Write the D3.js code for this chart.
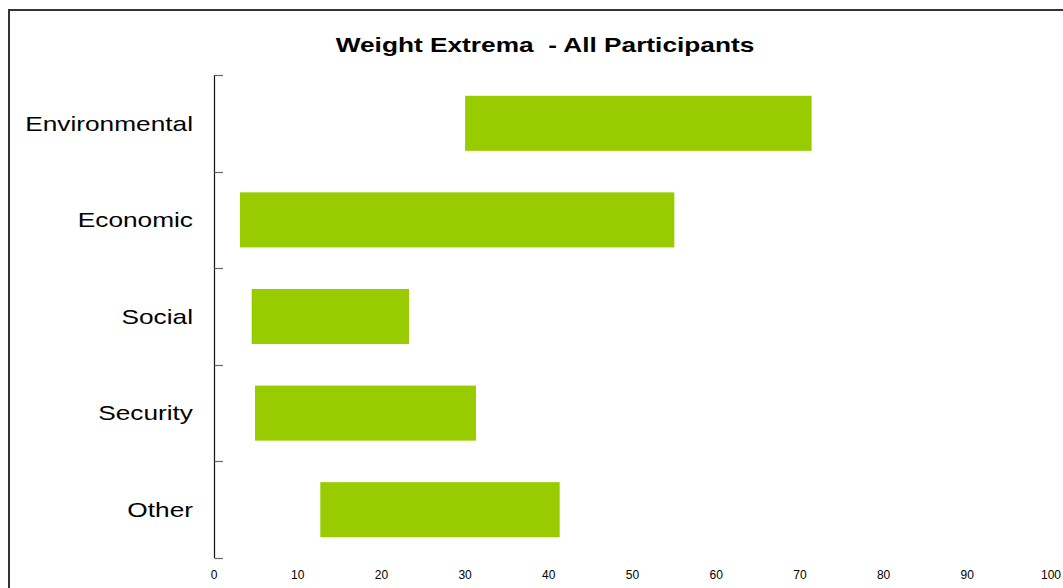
<!DOCTYPE html>
<html>
<head>
<meta charset="utf-8">
<script src="https://cdn.jsdelivr.net/npm/d3@7"></script>
<style>
  body { margin: 0; background: #fff; }
  svg { display: block; font-family: Arial, "Liberation Sans", sans-serif; }
</style>
</head>
<body>
<div id="chart"></div>
<script>
// data
const categories = ["Environmental", "Economic", "Social", "Security", "Other"];
const minWeights = [30.0, 3.1, 4.5, 4.9, 12.7];
const maxWeights = [71.4, 55.0, 23.3, 31.3, 41.3];
const xTicks = [0, 10, 20, 30, 40, 50, 60, 70, 80, 90, 100];

const width = 1063, height = 588;
const stretch = 1.25; // the original text is drawn wider than normal

const svg = d3.select("#chart").append("svg")
    .attr("width", width)
    .attr("height", height);

// outer frame (right and bottom edges fall outside the window)
svg.append("rect")
    .attr("x", 9).attr("y", 10)
    .attr("width", width + 20).attr("height", height + 20)
    .attr("fill", "none")
    .attr("stroke", "#333")
    .attr("stroke-width", 2);

svg.append("text")
    .attr("transform", `translate(545,52) scale(${stretch},1)`)
    .attr("text-anchor", "middle")
    .style("white-space", "pre")
    .attr("font-size", 21)
    .attr("font-weight", "bold")
    .text("Weight Extrema  - All Participants");

const x = d3.scaleLinear().domain([0, 100]).range([214, 1051]);
const y = d3.scaleBand().domain(categories).range([75, 558]).paddingInner(0.43).paddingOuter(0.215);

// y axis line + ticks at band boundaries
const yAxis = svg.append("g");
yAxis.append("line")
    .attr("x1", 214.5).attr("x2", 214.5)
    .attr("y1", 75).attr("y2", 558)
    .attr("stroke", "#111").attr("stroke-width", 1.2);
const step = (558 - 75) / categories.length;
yAxis.selectAll("line.tick")
    .data(d3.range(categories.length + 1))
    .join("line")
    .attr("class", "tick")
    .attr("x1", 214.5).attr("x2", 223)
    .attr("y1", i => Math.round(75 + i * step) + 0.5)
    .attr("y2", i => Math.round(75 + i * step) + 0.5)
    .attr("stroke", "#666").attr("stroke-width", 1.2);

yAxis.selectAll("text")
    .data(categories)
    .join("text")
    .attr("transform", d => `translate(193,${y(d) + y.bandwidth() / 2}) scale(${stretch},1)`)
    .attr("dy", "0.35em")
    .attr("text-anchor", "end")
    .attr("font-size", 21)
    .attr("fill", "#000")
    .text(d => d);

// x tick labels only (no axis line)
svg.append("g").selectAll("text")
    .data(xTicks)
    .join("text")
    .attr("x", d => x(d))
    .attr("y", 575)
    .attr("dy", "0.35em")
    .attr("text-anchor", "middle")
    .attr("font-size", 12)
    .attr("fill", "#000")
    .text(d => d);

// floating bars
svg.append("g").selectAll("rect")
    .data(categories)
    .join("rect")
    .attr("x", (d, i) => x(minWeights[i]))
    .attr("width", (d, i) => x(maxWeights[i]) - x(minWeights[i]))
    .attr("y", d => y(d))
    .attr("height", y.bandwidth())
    .attr("fill", "#99cc00");
</script>
</body>
</html>
